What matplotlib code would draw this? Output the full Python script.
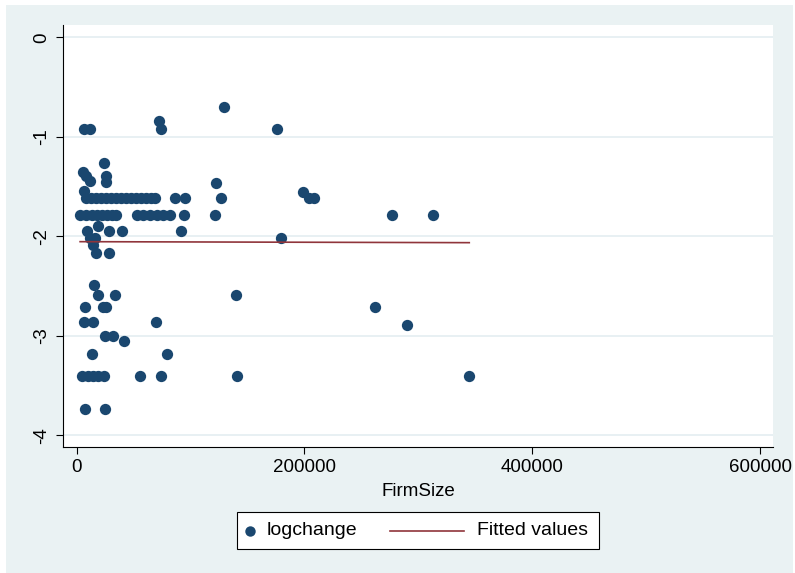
import matplotlib
matplotlib.use('Agg')
import matplotlib.pyplot as plt
from matplotlib.patches import Rectangle
from matplotlib.lines import Line2D

plt.rcParams['font.family'] = ['Liberation Sans', 'DejaVu Sans']
plt.rcParams['axes.unicode_minus'] = False

# ---- data ----
firm_size = [
    129600,
    6400, 11700, 74000, 176000,
    72300,
    24200,
    5800,
    8200, 25300,
    11700, 25300,
    122700,
    6800, 198700,
    # row near -1.61
    8200, 12600, 16900, 21300, 25700, 30000, 34400, 38800, 43200, 47600,
    52000, 56400, 60800, 65200, 68700, 86300, 95100, 126400, 204000, 208400,
    # row near -1.79
    3000, 8000, 13000, 17800, 22200, 26600, 31000, 34500, 52900, 58200,
    64400, 70500, 75800, 81900, 94200, 121400, 276600, 312800,
    18400,
    8800, 28600, 39800, 91300,
    11700, 16100, 179400,
    14600,
    16900, 28600,
    15200,
    18400, 33600, 139600,
    7600, 23100, 25700, 262200,
    6700, 14600, 69900,
    289700,
    24800, 31600,
    41800,
    13700, 79500,
    # row near -3.40
    4500, 9900, 14300, 18700, 24000, 55600, 74000, 140500, 344700,
    7600, 24600,
]
log_change = [
    -0.70,
    -0.92, -0.92, -0.92, -0.92,
    -0.84,
    -1.26,
    -1.35,
    -1.39, -1.39,
    -1.44, -1.45,
    -1.46,
    -1.54, -1.55,
    -1.61, -1.61, -1.61, -1.61, -1.61, -1.61, -1.61, -1.61, -1.61, -1.61,
    -1.61, -1.61, -1.61, -1.61, -1.61, -1.61, -1.61, -1.61, -1.61, -1.61,
    -1.79, -1.79, -1.79, -1.79, -1.79, -1.79, -1.79, -1.79, -1.79, -1.79,
    -1.79, -1.79, -1.79, -1.79, -1.79, -1.79, -1.79, -1.79,
    -1.90,
    -1.95, -1.95, -1.95, -1.95,
    -2.02, -2.02, -2.02,
    -2.09,
    -2.17, -2.17,
    -2.49,
    -2.59, -2.59, -2.59,
    -2.71, -2.71, -2.71, -2.71,
    -2.865, -2.865, -2.865,
    -2.89,
    -3.00, -3.00,
    -3.05,
    -3.18, -3.18,
    -3.40, -3.40, -3.40, -3.40, -3.40, -3.40, -3.40, -3.40, -3.40,
    -3.74, -3.74,
]
fit_x = [min(firm_size), max(firm_size)]
fit_y = [-2.054, -2.064]
x_ticks = [0, 200000, 400000, 600000]
y_ticks = [0, -1, -2, -3, -4]
x_label = 'FirmSize'
legend_labels = ['logchange', 'Fitted values']

NAVY = '#1A476F'
MAROON = '#90353B'
BG = '#EAF2F3'
FS = 13.5

W, H = 795, 573
fig = plt.figure(figsize=(W / 100, H / 100), dpi=100)
fig.patch.set_facecolor('white')
fig.add_artist(Rectangle((6 / W, 0), (793 - 6) / W, (573 - 5) / H,
                         transform=fig.transFigure, facecolor=BG,
                         edgecolor='none', zorder=-5))

ax = fig.add_axes([63 / W, 1 - 447 / H, (773 - 63) / W, (447 - 25) / H])
ax.set_facecolor('white')
ax.scatter(firm_size, log_change, s=66, color=NAVY, linewidths=0, zorder=3)
ax.plot(fit_x, fit_y, color=MAROON, lw=1.2, zorder=4)

ax.set_xlim(-12030, 611400)
ax.set_ylim(-4.118, 0.124)
ax.set_xticks(x_ticks)
ax.set_xticklabels([str(v) for v in x_ticks])
ax.set_yticks(y_ticks)
ax.set_yticklabels([str(v) for v in y_ticks], rotation=90, va='center')
ax.tick_params(axis='both', direction='out', length=5, width=0.8,
               labelsize=FS, pad=4, colors='black')
ax.yaxis.grid(True, color='#E4EDF1', lw=1.2)
ax.set_axisbelow(True)
for s in ['top', 'right']:
    ax.spines[s].set_visible(False)
for s in ['left', 'bottom']:
    ax.spines[s].set_color('black')
    ax.spines[s].set_linewidth(0.8)
ax.set_xlabel(x_label, fontsize=FS, labelpad=5)

# ---- legend (Stata-style box) ----
ly = 1 - 530.5 / H
fig.add_artist(Rectangle((237 / W, 1 - 549 / H), (599 - 237) / W, 37 / H,
                         transform=fig.transFigure, facecolor='white',
                         edgecolor='black', lw=0.8, zorder=5))
fig.add_artist(Line2D([250 / W], [ly], marker='o', ms=7.5, color=NAVY,
                      mew=0, transform=fig.transFigure, zorder=6))
fig.text(267 / W, ly, legend_labels[0], fontsize=FS + 0.5, va='center', ha='left', zorder=6)
fig.add_artist(Line2D([390 / W, 464 / W], [ly, ly], color=MAROON, lw=1.2,
                      transform=fig.transFigure, zorder=6))
fig.text(477 / W, ly, legend_labels[1], fontsize=FS + 0.5, va='center', ha='left', zorder=6)

fig.savefig('out.png', dpi=100, facecolor='white')
